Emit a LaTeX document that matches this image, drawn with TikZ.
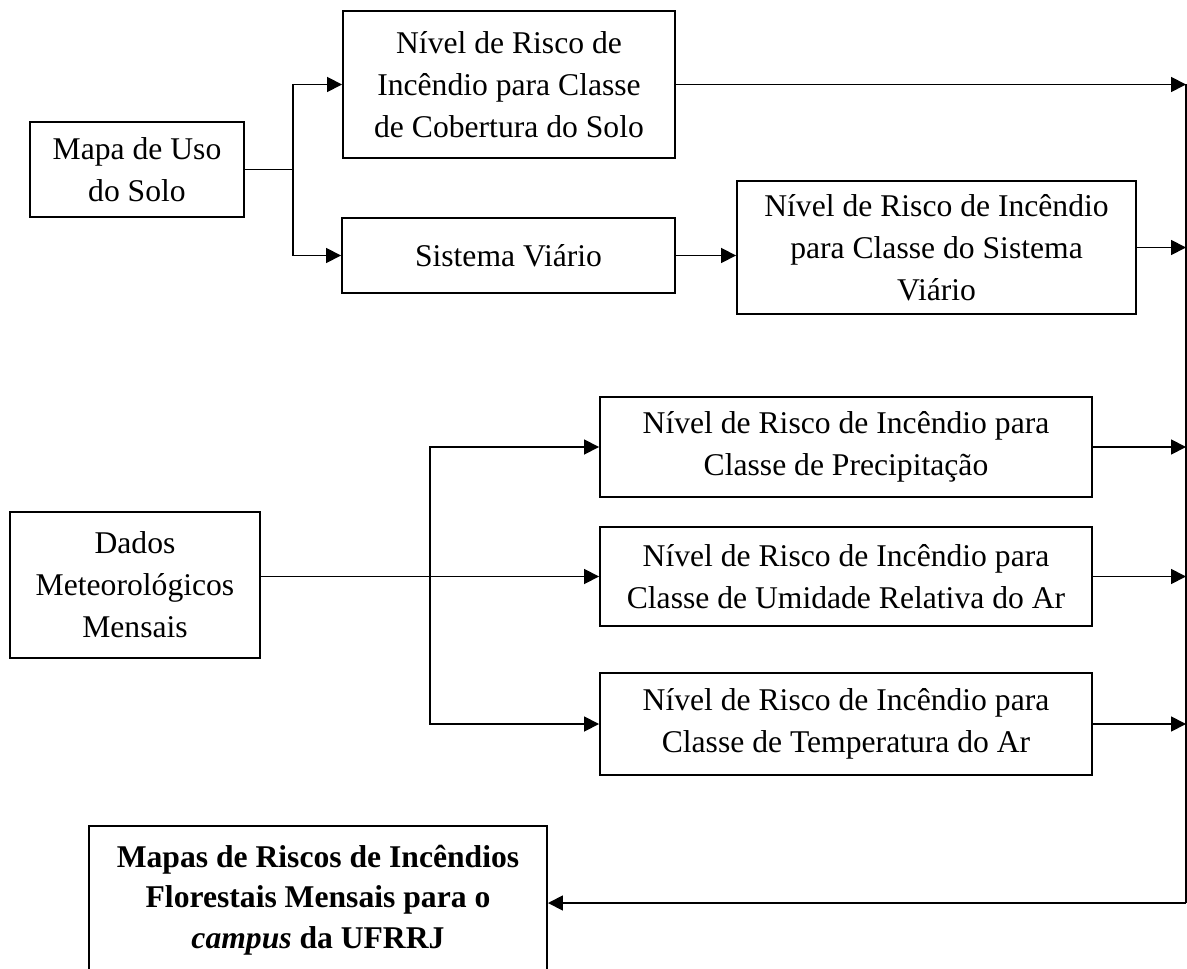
\documentclass[tikz,border=0pt]{standalone}
\usepackage{fontspec}
\setmainfont{Liberation Serif}
\usetikzlibrary{arrows.meta,positioning}

\tikzset{
  box/.style={draw, line width=1.1pt, align=center, inner sep=2pt,
    font=\fontsize{18}{24}\selectfont},
  link/.style={line width=1pt},
  >={Triangle[length=0.3cm,width=0.3cm]}
}

\begin{document}
\begin{tikzpicture}[node distance = 2cm, auto]
\clip (0,0) rectangle (23.74,-19.38);

\node (mapa) [box, minimum width=4.28cm, minimum height=1.9cm] at (2.74,-3.39) {Mapa de Uso\\do Solo};
\node (cob) [box, minimum width=6.64cm, minimum height=2.94cm] at (10.18,-1.69) {Nível de Risco de\\Incêndio para Classe\\de Cobertura do Solo};
\node (via) [box, minimum width=6.66cm, minimum height=1.5cm] at (10.17,-5.11) {Sistema Viário};
\node (rvia) [box, minimum width=7.98cm, minimum height=2.66cm] at (18.73,-4.95) {Nível de Risco de Incêndio\\para Classe do Sistema\\Viário};
\node (dados) [box, minimum width=5cm, minimum height=2.92cm] at (2.7,-11.7) {Dados\\Meteorológicos\\Mensais};
\node (prec) [box, minimum width=9.84cm, minimum height=2cm] at (16.92,-8.94) {Nível de Risco de Incêndio para\\Classe de Precipitação};
\node (umid) [box, minimum width=9.84cm, minimum height=1.98cm, below of=prec, node distance=2.59cm] {Nível de Risco de Incêndio para\\Classe de Umidade Relativa do Ar};
\node (temp) [box, minimum width=9.84cm, minimum height=2.04cm, below of=umid, node distance=2.95cm] {Nível de Risco de Incêndio para\\Classe de Temperatura do Ar};
\node (final) [box, font=\fontsize{18}{23}\selectfont\bfseries, minimum width=9.16cm, minimum height=2.96cm] at (6.36,-18.0) {Mapas de Riscos de Incêndios\\Florestais Mensais para o\\\textit{campus} da UFRRJ};

\coordinate (s1) at (5.86,0 |- mapa);
\coordinate (s2) at (8.6,0 |- umid);
\coordinate (bus) at (23.72,0 |- cob);
\coordinate (busend) at (23.72,-18.06);

% upper branch
\draw [link] (mapa.east) -- (s1);
\draw [link,->] (s1) |- (cob.west);
\draw [link,->] (s1) |- (via.west);
\draw [link,->] (via.east) -- (via.east -| rvia.west);

% weather branch
\draw [link,->] (dados.east |- umid) -- (umid.west);
\draw [link,->] (s2) |- (prec.west);
\draw [link,->] (s2) |- (temp.west);

% to the right line
\draw [link,->] (cob.east) -- (cob.east -| bus);
\draw [link,->] (rvia.east) -- (rvia.east -| bus);
\draw [link,->] (prec.east) -- (prec.east -| bus);
\draw [link,->] (umid.east) -- (umid.east -| bus);
\draw [link,->] (temp.east) -- (temp.east -| bus);
\draw [link] (bus) -- (busend);
\draw [link,->] (busend) -- (busend -| final.east);
\end{tikzpicture}
\end{document}
